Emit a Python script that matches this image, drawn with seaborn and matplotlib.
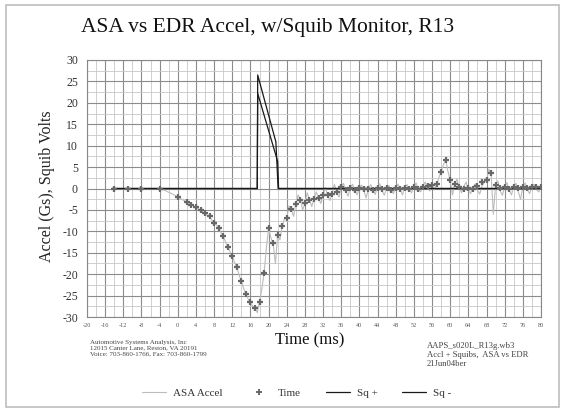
import numpy as np
import pandas as pd
import matplotlib
matplotlib.use("Agg")
import matplotlib.pyplot as plt
from matplotlib.lines import Line2D
from matplotlib.patches import Rectangle
import seaborn as sns

# ---------------- data ----------------
# ASA Accel (gray noisy trace), sampled every 0.5 ms from -14 to 80 ms
asa_t0, asa_step = -14.0, 0.5
asa_values = [
    0, 0, 0, 0, 0, 0, 0, 0, 0, 0, 0, 0, 0, 0, 0, 0, 0, 0, 0, 0,          # -14 .. -4.5
    0, -0.2, -0.4, -0.6, -0.9, -1.1, -1.4, -1.7, -2.0, -2.3, -2.6, -2.9,  # -4 .. 1.5
    -3.2, -3.5, -3.9, -4.1, -4.4, -4.8, -5.0, -5.5, -5.8, -6.3, -6.5, -7.4,  # 2 .. 7.5
    -8.1, -8.5, -9.2, -10.3, -11.2, -12.4, -13.6, -14.8, -15.8, -17.2, -18.4, -20.2,  # 8 .. 13.5
    -21.6, -23.3, -24.6, -25.8, -26.6, -27.5, -27.8, -29.0, -26.5, -23.5, -19.8, -14.0,  # 14 .. 19.5
    -9.3, -11.5, -12.8, -17.5, -10.8, -12.0, -8.8, -7.0, -6.8, -4.0, -4.9, -6.5,  # 20 .. 25.5
    -3.6, -1.5, -2.6, -5.0, -3.5, -1.0, -2.6, -4.2, -2.4, -0.8, -2.3, -3.5,  # 26 .. 31.5
    -1.6, 0.2, -1.5, -2.8, -1.2, 1.0, -0.9, -2.0, 0.3, 1.2, -0.5, -1.8,   # 32 .. 37.5
    0.2, 1.0, -0.4, -1.5, 0.3, 0.8, -0.6, -2.2, 0.1, 0.9, -0.3, -1.4,     # 38 .. 43.5
    0.4, 1.1, -0.5, -1.6, 0.2, 0.7, -0.4, -1.2, 0.3, 1.0, -0.2, -1.5,     # 44 .. 49.5
    0.4, 0.9, -0.3, -1.0, 0.5, 1.3, -0.2, -0.8, 0.6, 1.5, 0.2, -0.6,      # 50 .. 55.5
    0.8, -0.3, 1.0, 2.5, 3.9, 5.5, 6.7, 4.0, 2.0, -1.5, 1.0, 2.2,         # 56 .. 61.5
    0.2, -1.0, 0.5, 1.5, -0.3, -1.2, 0.4, 1.1, -0.4, -1.3, 0.6, 1.6,      # 62 .. 67.5
    1.8, 4.5, 3.6, -6.0, 0.8, 1.8, -0.5, -1.6, 0.5, 1.4, -0.4, -1.5,      # 68 .. 73.5
    0.6, 1.2, -0.8, -2.5, 0.4, 1.3, -0.3, -1.2, 0.5, 1.0, -0.2, -0.8,     # 74 .. 79.5
    0.3,                                                                 # 80
]
asa_time = asa_t0 + asa_step * np.arange(len(asa_values))

# "Time" markers
mark_time = [-14, -11, -8, -4, 0,
             2, 3, 4, 5, 6, 7, 8, 9, 10, 11, 12, 13, 14, 15, 16, 17, 18, 19,
             20, 21, 22, 23, 24, 25, 26, 27, 28, 29, 30, 31, 32, 33, 34, 35,
             36, 37, 38, 39, 40, 41, 42, 43, 44, 45, 46, 47, 48, 49, 50, 51,
             52, 53, 54, 55, 56, 57, 58, 59, 60, 61, 62, 63, 64, 65, 66, 67,
             68, 69, 70, 71, 72, 73, 74, 75, 76, 77, 78, 79, 80]
mark_vals = [0, 0, 0, 0, -1.9,
             -3.2, -3.9, -4.4, -5.0, -5.8, -6.5, -8.1, -9.2, -11.2, -13.6, -15.8,
             -18.4, -21.6, -24.6, -26.6, -27.8, -26.5, -19.8,
             -9.3, -12.8, -10.8, -8.8, -6.8, -4.9, -3.6, -2.6, -3.5, -2.6, -2.4,
             -2.3, -1.6, -1.5, -1.2, -0.9,
             0.3, -0.4, 0.2, -0.3, 0.1, -0.2, 0.0, -0.3, 0.2, -0.2, 0.1, -0.3,
             0.2, 0.0, 0.1, -0.2, 0.3, 0.0, 0.4, 0.6, 0.8, 1.0, 3.9, 6.7, 2.0,
             1.0, 0.3, 0.0, 0.2, -0.1, 0.5, 1.5, 2.0, 3.6, 0.8,
             0.2, 0.3, 0.0, 0.3, 0.1, 0.4, 0.2, 0.3, 0.3, 0.3]

# Squib monitor channels
sqp_time = [-14.5, 17.5, 17.6, 21.6, 22.1, 80]
sqp_vals = [0, 0, 26.5, 10.9, 0, 0]
sqm_time = [-14.5, 17.5, 17.6, 22.0, 22.2, 80]
sqm_vals = [0, 0, 22.2, 6.3, 0, 0]

x_ticks = list(range(-20, 81, 4))
y_ticks = list(range(-30, 31, 5))

# ---------------- plot ----------------
sns.set_theme(style="white")
plt.rcParams["font.family"] = ["Liberation Serif", "DejaVu Serif"]

fig = plt.figure(figsize=(5.65, 4.16), dpi=100)
ax = fig.add_axes([87 / 565, 1 - 317 / 416, (541 - 87) / 565, (317 - 60) / 416])

df_asa = pd.DataFrame({"t": asa_time, "v": asa_values})
df_mark = pd.DataFrame({"t": mark_time, "v": mark_vals})
df_sqp = pd.DataFrame({"t": sqp_time, "v": sqp_vals})
df_sqm = pd.DataFrame({"t": sqm_time, "v": sqm_vals})

sns.lineplot(data=df_asa, x="t", y="v", ax=ax, color="#bcbcbc", lw=0.8,
             sort=False, estimator=None, zorder=3)
sns.lineplot(data=df_sqp, x="t", y="v", ax=ax, color="#1a1a1a", lw=0.9,
             sort=False, estimator=None, zorder=4)
sns.lineplot(data=df_sqm, x="t", y="v", ax=ax, color="#1a1a1a", lw=0.9,
             sort=False, estimator=None, zorder=4)
ax.plot(df_mark["t"], df_mark["v"], ls="none", marker="+", ms=4, mew=1.6,
        color="#686868", zorder=5)

ax.set_xlim(-20, 80)
ax.set_ylim(-30, 30)
ax.set_xticks(x_ticks)
ax.set_xticklabels([str(v) for v in x_ticks], fontsize=4.5, color="#555555")
ax.set_yticks(y_ticks)
ax.set_yticklabels([str(v) for v in y_ticks], fontsize=8.5, color="#333333")
ax.set_xticks(np.arange(-20, 81, 2), minor=True)
ax.set_yticks(np.arange(-30, 31, 2.5), minor=True)
ax.tick_params(axis="y", which="major", direction="inout", length=7,
               width=0.8, color="#777777", pad=3)
ax.tick_params(axis="x", which="major", direction="inout", length=6,
               width=0.8, color="#777777", pad=1.5)
ax.tick_params(axis="both", which="minor", direction="inout", length=4,
               width=0.6, color="#999999")
ax.grid(True, which="major", color="#8c8c8c", lw=0.8)
ax.grid(True, which="minor", color="#c8c8c8", lw=0.6)
ax.set_axisbelow(True)
for s in ax.spines.values():
    s.set_color("#888888")
    s.set_linewidth(0.8)
ax.set_xlabel("")
ax.set_ylabel("")

fig.text(0.473, 0.935, "ASA vs EDR Accel, w/Squib Monitor, R13",
         ha="center", va="center", fontsize=15.5, color="#111111")
fig.text(0.549, 1 - 340 / 416, "Time (ms)", ha="center", va="center",
         fontsize=12, color="#111111")
fig.text(0.083, 1 - 186 / 416, "Accel (Gs), Squib Volts", rotation=90,
         ha="center", va="center", fontsize=11.5, color="#222222")

fig.text(0.159, 1 - 348 / 416,
         "Automotive Systems Analysis, Inc\n12015 Canter Lane, Reston, VA 20191\n"
         "Voice: 703-860-1766, Fax: 703-860-1799",
         ha="left", va="center", fontsize=5, color="#444444", linespacing=1.15)
fig.text(0.755, 1 - 355 / 416,
         "AAPS_s020L_R13g.wb3\nAccl + Squibs,  ASA vs EDR\n21Jun04ber",
         ha="left", va="center", fontsize=6.2, color="#444444", linespacing=1.2)

handles = [
    Line2D([], [], color="#bcbcbc", lw=0.8),
    Line2D([], [], ls="none", marker="+", ms=4, mew=1.4, color="#686868"),
    Line2D([], [], color="#1a1a1a", lw=0.9),
    Line2D([], [], color="#1a1a1a", lw=0.9),
]
labels = ["ASA Accel", "Time", "Sq +", "Sq -"]
fig.legend(handles, labels, loc="center", bbox_to_anchor=(0.525, 1 - 393 / 416),
           ncol=4, frameon=False, fontsize=8, handlelength=2.2,
           columnspacing=2.2, handletextpad=0.6, labelcolor="#333333")

fig.patches.append(Rectangle((6 / 565, 1 - 407 / 416), 553 / 565, 402 / 416,
                             transform=fig.transFigure, fill=False,
                             edgecolor="#bdbdbd", lw=1.2))

fig.savefig("out.png", dpi=100, facecolor="white")
